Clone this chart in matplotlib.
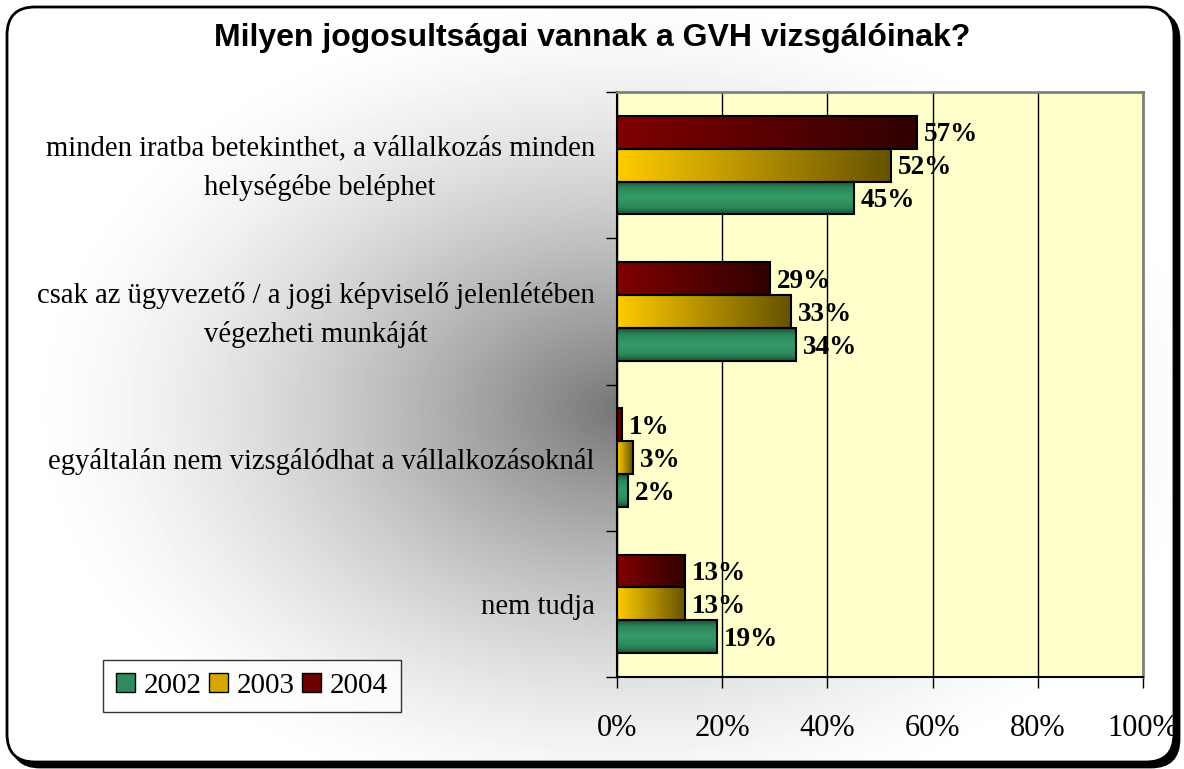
import numpy as np
import matplotlib.pyplot as plt
from matplotlib.patches import FancyBboxPatch, Patch
from matplotlib.colors import LinearSegmentedColormap

# adatok
categories = ['minden iratba betekinthet, a vállalkozás minden\nhelységébe beléphet',
              'csak az ügyvezető / a jogi képviselő jelenlétében\nvégezheti munkáját',
              'egyáltalán nem vizsgálódhat a vállalkozásoknál',
              'nem tudja']
years = ['2002', '2003', '2004']
v2002 = [45, 34, 2, 19]
v2003 = [52, 33, 3, 13]
v2004 = [57, 29, 1, 13]
x_ticks = [0, 20, 40, 60, 80, 100]
title = 'Milyen jogosultságai vannak a GVH vizsgálóinak?'

SERIF = 'Liberation Serif'
SANS = 'Liberation Sans'

W, H = 1184, 769
fig = plt.figure(figsize=(W / 100, H / 100), dpi=100)
fig.patch.set_facecolor('white')

# keret + szurke atmenetes hatter
bg = fig.add_axes([0, 0, 1, 1], zorder=0)
bg.set_xlim(0, W)
bg.set_ylim(H, 0)
bg.axis('off')
style = 'round,pad=0,rounding_size=28'
bg.add_patch(FancyBboxPatch((12, 12), 1167, 755, boxstyle=style,
                            facecolor='black', edgecolor='black', lw=2, zorder=1))
frame = FancyBboxPatch((7, 7), 1167, 755, boxstyle=style,
                       facecolor='white', edgecolor='none', zorder=1.2)
bg.add_patch(frame)
yy, xx = np.mgrid[0:H, 0:W]
d = np.sqrt(((xx - 620) / 600.0) ** 2 + ((yy - 410) / 420.0) ** 2)
g = 0.46 + 0.54 * (1 - (1 - np.clip(d, 0, 1)) ** 1.5)
im = bg.imshow(g, cmap='gray', vmin=0, vmax=1, extent=(0, W, H, 0),
               aspect='auto', interpolation='bilinear', zorder=1.5)
im.set_clip_path(frame)
bg.add_patch(FancyBboxPatch((7, 7), 1167, 755, boxstyle=style,
                            facecolor='none', edgecolor='black', lw=2, zorder=2))
bg.set_xlim(0, W)
bg.set_ylim(H, 0)

# diagram terulet
ax = fig.add_axes([617 / W, 1 - 677 / H, (1143 - 617) / W, (677 - 92) / H], zorder=1)
ax.set_facecolor('#FFFFCC')

green = LinearSegmentedColormap.from_list('g', ['#339966', '#2C8459', '#1A4D33'])
yellow = LinearSegmentedColormap.from_list('y', ['#FFCC00', '#665200'])
red = LinearSegmentedColormap.from_list('r', ['#800000', '#300000'])

horiz = np.linspace(0, 1, 256).reshape(1, -1)
vert = (np.abs(np.linspace(-1, 1, 64)) ** 1.5).reshape(-1, 1)

cat_y = np.arange(len(categories))[::-1] + 0.5
h = 0.225
series = [(v2002, -h, green, vert), (v2003, 0, yellow, horiz), (v2004, h, red, horiz)]
for vals, off, cmap, grad in series:
    bars = ax.barh(cat_y + off, vals, height=h, facecolor='none',
                   edgecolor='black', lw=1.5, zorder=3)
    for b, v in zip(bars, vals):
        x0, y0 = b.get_x(), b.get_y()
        bi = ax.imshow(grad, cmap=cmap, vmin=0, vmax=1,
                       extent=(x0, x0 + b.get_width(), y0, y0 + b.get_height()),
                       aspect='auto', interpolation='bilinear', zorder=2)
        bi.set_clip_path(b)
        ax.annotate(f'{v}%', xy=(v, y0 + b.get_height() / 2), xytext=(5, -2),
                    textcoords='offset points', ha='left', va='center',
                    fontsize=19.5, fontweight='bold', family=SERIF, zorder=4)

ax.set_xlim(0, 100)
ax.set_ylim(0, 4)

ax.set_xticks(x_ticks)
ax.set_xticklabels([f'{t}%' for t in x_ticks], family=SERIF, fontsize=22)
ax.tick_params(axis='x', length=8, width=1, direction='out', pad=19)
ax.xaxis.grid(True, color='black', lw=1)
ax.set_axisbelow(True)

ax.set_yticks([0, 1, 2, 3, 4])
ax.set_yticklabels([])
ax.tick_params(axis='y', which='major', length=8, width=1, direction='out')

# kategoria feliratok
for lab, y in zip(categories, cat_y):
    ax.annotate(lab, xy=(0, y), xycoords=('axes fraction', 'data'),
                xytext=(-16, -2.5), textcoords='offset points',
                ha='right', va='center', multialignment='center',
                family=SERIF, fontsize=20.6, linespacing=1.6)

for s in ['top', 'right']:
    ax.spines[s].set_color('#808080')
    ax.spines[s].set_linewidth(2)
for s in ['left', 'bottom']:
    ax.spines[s].set_color('black')
    ax.spines[s].set_linewidth(1.5)

fig.text(592 / W, 1 - 38 / H, title, ha='center', va='center',
         fontsize=23, fontweight='bold', family=SANS)

handles = [Patch(facecolor='#2E8B5E', edgecolor='black'),
           Patch(facecolor='#D4A800', edgecolor='black'),
           Patch(facecolor='#6A0000', edgecolor='black')]
leg = fig.legend(handles, years, loc='lower left', bbox_to_anchor=(103 / W, 1 - 712 / H),
                 ncol=3, frameon=True, fancybox=False, edgecolor='black',
                 handlelength=0.65, handleheight=0.65, columnspacing=0.25,
                 handletextpad=0.3, borderpad=0.45, borderaxespad=0,
                 prop={'family': SERIF, 'size': 21})
leg.get_frame().set_linewidth(1)
leg.set_zorder(5)

fig.savefig('out.png', dpi=100)
